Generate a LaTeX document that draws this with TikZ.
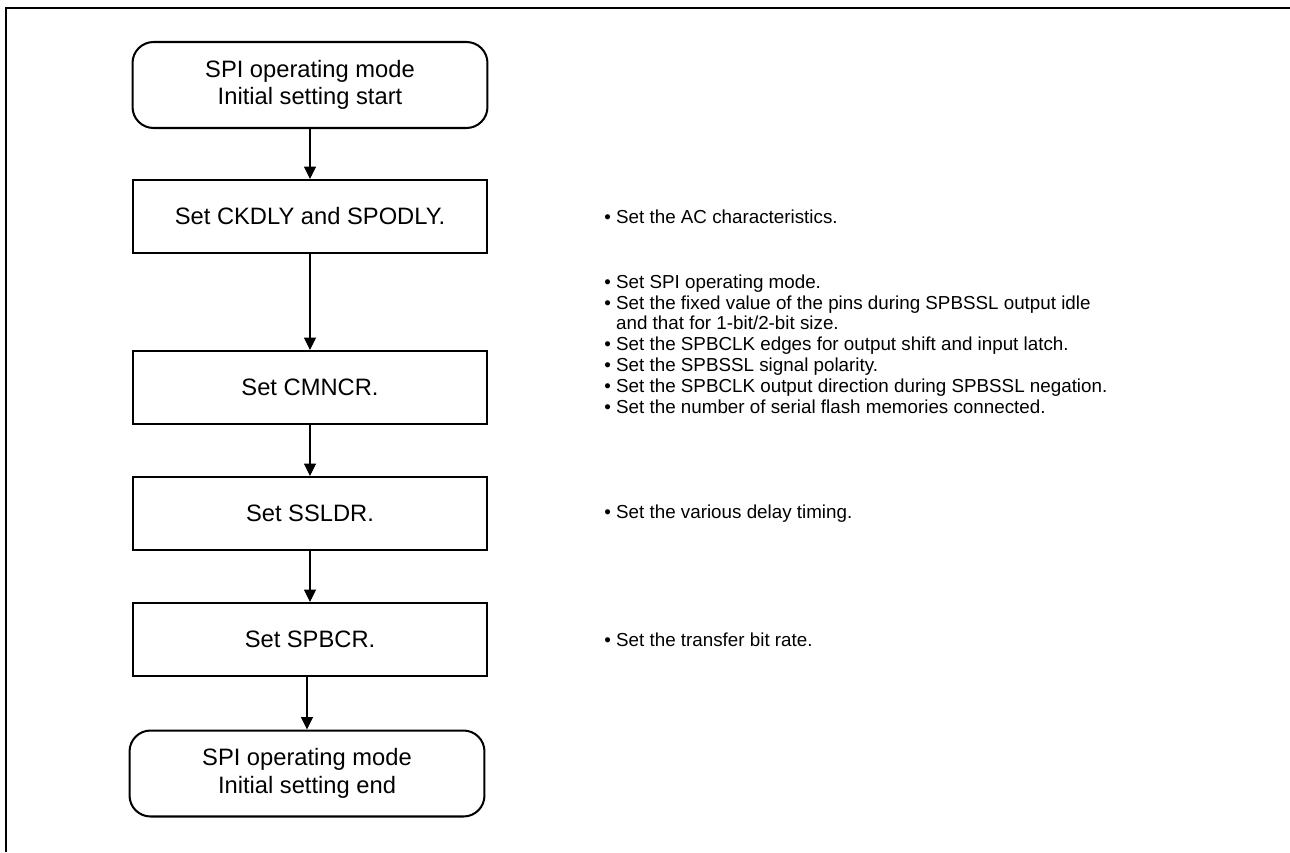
\documentclass[tikz,border=0pt]{standalone}
\usepackage{fontspec}
\setmainfont{Liberation Sans}
\usetikzlibrary{arrows.meta}

\begin{document}
\begin{tikzpicture}[x=0.02cm, y=-0.02cm, >={Triangle[width=6.8pt,length=7pt]},
    startend/.style={draw, line width=1.15pt, rounded corners=0.42cm, minimum width=7.1cm, minimum height=1.72cm, align=center, font=\fontsize{13.5}{15.6}\selectfont},
    stepbox/.style={draw, line width=1.15pt, minimum width=7.08cm, minimum height=1.46cm, font=\fontsize{13.5}{15.6}\selectfont},
    note/.style={anchor=west, inner sep=0pt, align=left, font=\fontsize{10.7}{11.83}\selectfont},
    flow/.style={->, line width=0.6pt}]
        \useasboundingbox (0,0) rectangle (1290,852);
        % Khung
        \draw[line width=1.7pt] (6,852) -- (6,8) -- (1290,8);
        % Các bước
        \node[startend] (start) at (310,85) {SPI operating mode\\Initial setting start};
        \node[stepbox] (ckdly) at (310,216.5) {Set CKDLY and SPODLY.};
        \node[stepbox] (cmncr) at (310,387.5) {Set CMNCR.};
        \node[stepbox] (ssldr) at (310,513.5) {Set SSLDR.};
        \node[stepbox] (spbcr) at (310,639.5) {Set SPBCR.};
        \node[startend] (finish) at (307,773.5) {SPI operating mode\\Initial setting end};
        % Mũi tên
        \draw[flow] (start) -- (ckdly);
        \draw[flow] (ckdly) -- (cmncr);
        \draw[flow] (cmncr) -- (ssldr);
        \draw[flow] (ssldr) -- (spbcr);
        \draw[flow] (finish.north |- spbcr.south) -- (finish.north);
        % Ghi chú
        \node[note] (ckdlynote) at (604,216.5) {• Set the AC characteristics.};
        \node[note] (cmncrnote) at (604,344) {• Set SPI operating mode.\\
            • Set the fixed value of the pins during SPBSSL output idle\\
            \phantom{• }and that for 1-bit/2-bit size.\\
            • Set the SPBCLK edges for output shift and input latch.\\
            • Set the SPBSSL signal polarity.\\
            • Set the SPBCLK output direction during SPBSSL negation.\\
            • Set the number of serial flash memories connected.};
        \node[note] (ssldrnote) at (604,513.5) {• Set the various delay timing.};
        \node[note] (spbcrnote) at (604,639.5) {• Set the transfer bit rate.};
    \end{tikzpicture}
\end{document}
